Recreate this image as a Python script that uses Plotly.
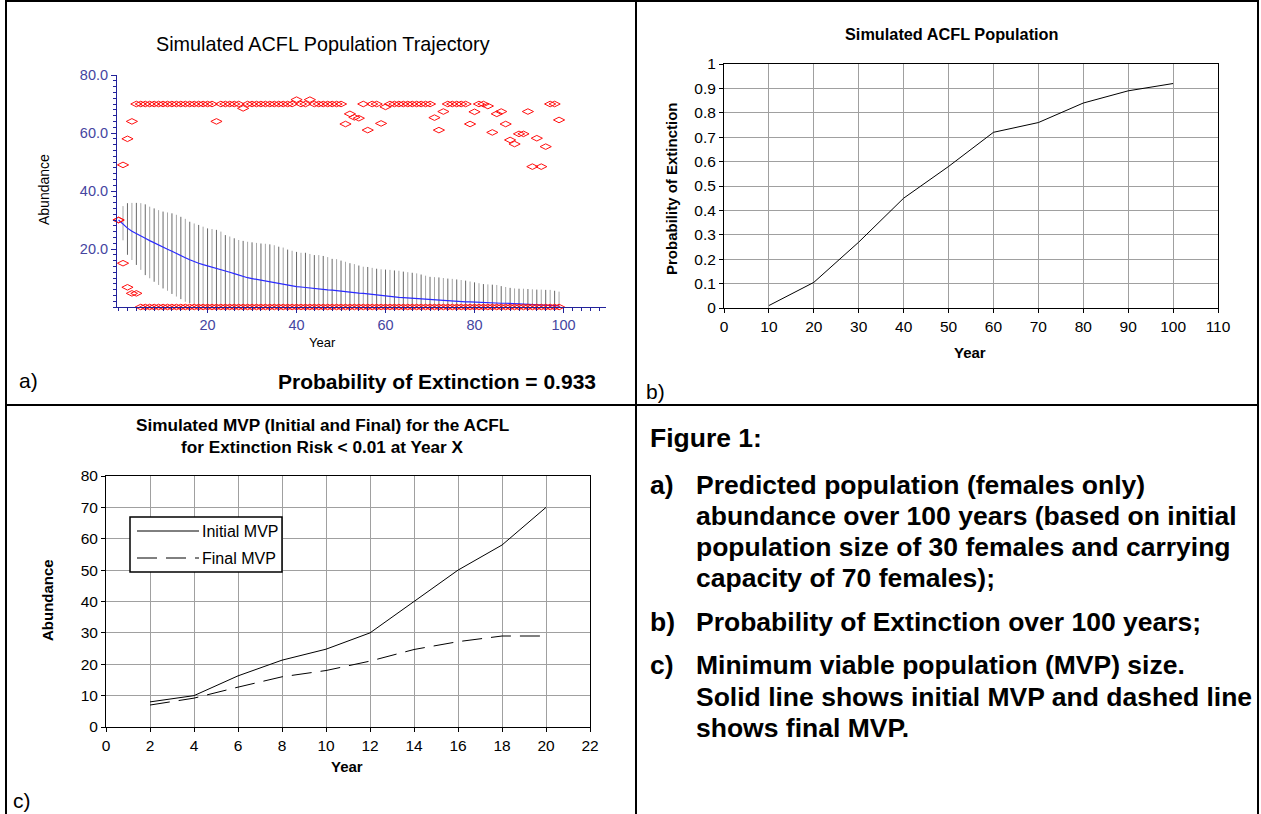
import plotly.graph_objects as go

W, H = 1261, 814
FONT = "Liberation Sans, Arial, sans-serif"


def X(px):
    return px / W


def Y(py):
    return 1 - py / H


# ---------------- Panel a data: simulated trajectory ----------------
years_a = list(range(0, 100))
max_a = [30, 49, 58, 64] + [70] * 18 + [64] + [70] * 5 + [68.5] + [70] * 11 + \
        [71.5, 70, 70, 71.5] + [70] * 7 + \
        [63.1, 66.6, 65.4, 65.1, 70, 61, 70, 70, 63.3, 69] + [70] * 10 + \
        [65.3, 61, 67.4] + [70] * 5 + \
        [63.1, 67.3, 70, 70, 69.3, 60.2, 66.6, 67.4, 63.1, 57.6, 56.2, 59.7,
         59.7, 67.4, 48.4, 58.2, 48.4, 55.3, 70, 70, 64.5]
min_a = [30, 15.1, 6.8, 4.7, 4.7] + [0] * 95
mean_a = [30, 28.5, 27.2, 26.1, 25.2, 24.4, 23.7, 22.9, 22.1, 21.3,
          20.6, 19.9, 19.2, 18.4, 17.7, 17.0, 16.3, 15.6, 15.1, 14.6,
          14.2, 13.8, 13.4, 12.9, 12.4, 12.0, 11.5, 11.0, 10.5, 10.1,
          9.8, 9.5, 9.2, 9.0, 8.6, 8.3, 8.0, 7.7, 7.5, 7.2,
          7.0, 6.9, 6.7, 6.5, 6.3, 6.1, 6.0, 5.9, 5.8, 5.6,
          5.4, 5.2, 5.0, 4.9, 4.8, 4.7, 4.5, 4.3, 4.1, 3.9,
          3.7, 3.6, 3.4, 3.3, 3.2, 3.1, 2.9, 2.8, 2.6, 2.5,
          2.4, 2.3, 2.2, 2.1, 2.0, 2.0, 1.9, 1.9, 1.8, 1.8,
          1.7, 1.7, 1.6, 1.5, 1.5, 1.4, 1.3, 1.3, 1.3, 1.2,
          1.1, 1.0, 0.9, 0.8, 0.7, 0.7, 0.6, 0.5, 0.5, 0.4]
upper_a = [30, 34.8, 35.8, 35.9, 35.9, 35.8, 35.4, 34.6, 34.0, 33.4,
           32.9, 32.6, 32.3, 31.8, 31.1, 30.4, 29.4, 28.8, 28.3, 27.7,
           27.1, 26.9, 26.6, 26.0, 24.8, 24.3, 23.7, 23.1, 22.8, 22.5,
           22.3, 22.1, 21.9, 21.8, 21.6, 21.3, 20.8, 20.5, 19.8, 19.4,
           19.0, 18.7, 18.7, 18.3, 17.9, 17.9, 17.6, 17.2, 16.6, 16.5,
           16.0, 15.6, 15.1, 14.8, 14.3, 13.9, 13.8, 13.5, 13.2, 13.0,
           12.9, 12.8, 12.6, 12.5, 12.2, 12.0, 11.8, 11.6, 11.2, 10.8,
           10.4, 10.3, 10.2, 10.0, 9.8, 9.7, 9.5, 9.3, 9.1, 8.8,
           8.5, 8.2, 7.9, 7.8, 7.7, 7.6, 7.2, 6.9, 6.6, 6.4,
           6.3, 6.3, 6.2, 6.1, 6.0, 6.0, 5.9, 5.9, 5.6, 5.3]
lower_a = [30, 23.0, 18.0, 16.2, 14.5, 12.8, 11.0, 9.9, 8.7, 7.6,
           6.4, 5.6, 4.5, 3.6, 2.7, 1.8, 1.3, 0.7, 0.2] + [0] * 81
xticks_a = [20, 40, 60, 80, 100]
yticks_a = [20, 40, 60, 80]

# ---------------- Panel b data: probability of extinction ----------------
years_b = [10, 20, 30, 40, 50, 60, 70, 80, 90, 100]
prob_b = [0.01, 0.105, 0.27, 0.45, 0.58, 0.72, 0.76, 0.84, 0.89, 0.92]

# ---------------- Panel c data: MVP ----------------
years_c = [2, 4, 6, 8, 10, 12, 14, 16, 18, 20]
initial_mvp = [8, 10, 16.3, 21.3, 24.8, 30, 40, 50, 58, 70]
final_mvp = [7, 9.2, 12.7, 16, 18, 21, 24.7, 27.2, 29, 29]
legend_names = ["Initial MVP", "Final MVP"]

DASH = "20px,9px"

fig = go.Figure()

# bars (range lines), alternating greys
for parity, col in ((0, "#686868"), (1, "#a6a6a6")):
    bx, by = [], []
    for t, lo, hi in zip(years_a, lower_a, upper_a):
        if t % 2 == parity and hi > lo:
            bx += [t, t, None]
            by += [lo, hi, None]
    fig.add_trace(go.Scatter(x=bx, y=by, mode="lines", xaxis="x", yaxis="y",
                             line=dict(color=col, width=1), showlegend=False,
                             hoverinfo="skip"))

fig.add_trace(go.Scatter(x=years_a, y=mean_a, mode="lines", xaxis="x", yaxis="y",
                         line=dict(color="#2a2aff", width=1.2), showlegend=False))
for arr in (max_a, min_a):
    fig.add_trace(go.Scatter(x=years_a, y=arr, mode="markers", xaxis="x", yaxis="y",
                             marker=dict(symbol="diamond-wide-open", size=8, color="#ff1010",
                                         line=dict(width=1, color="#ff1010")),
                             cliponaxis=False, showlegend=False))

fig.add_trace(go.Scatter(x=years_b, y=prob_b, mode="lines", xaxis="x2", yaxis="y2",
                         line=dict(color="black", width=1), showlegend=False))

fig.add_trace(go.Scatter(x=years_c, y=initial_mvp, mode="lines", xaxis="x3", yaxis="y3",
                         name=legend_names[0], line=dict(color="black", width=1),
                         showlegend=False))
fig.add_trace(go.Scatter(x=years_c, y=final_mvp, mode="lines", xaxis="x3", yaxis="y3",
                         name=legend_names[1], line=dict(color="black", width=1, dash=DASH),
                         showlegend=False))

NAVY = "#22229a"
LBL = "#45459f"
GRID = "#a0a0a0"
TICKF = dict(family=FONT, size=15.5, color="black")

axis_a_common = dict(showline=True, linecolor=NAVY, linewidth=1, ticks="outside",
                     ticklen=5, tickcolor=NAVY, showgrid=False, zeroline=False,
                     automargin=False,
                     tickfont=dict(family=FONT, size=14.5, color=LBL))

box_common = dict(showline=True, mirror=True, linecolor="black", linewidth=1,
                  ticks="outside", ticklen=4, tickcolor="black", automargin=False,
                  showgrid=True, gridcolor=GRID, gridwidth=1, zeroline=False,
                  tickfont=TICKF)

layout_axes = dict(
    xaxis=dict(domain=[X(117), X(606)], range=[-0.35, 109.55], anchor="y",
               tickmode="array", tickvals=xticks_a, ticktext=[str(v) for v in xticks_a],
               minor=dict(ticks="outside", ticklen=3, dtick=2, tick0=0, tickcolor=NAVY,
                          showgrid=False),
               **axis_a_common),
    yaxis=dict(domain=[Y(307), Y(75)], range=[0, 80], anchor="x",
               tickmode="array", tickvals=yticks_a, ticktext=[f"{v:.1f}" for v in yticks_a],
               minor=dict(ticks="outside", ticklen=3, dtick=2, tick0=0, tickcolor=NAVY,
                          showgrid=False),
               **axis_a_common),
    xaxis2=dict(domain=[X(724), X(1218)], range=[0, 110], anchor="y2", dtick=10, tick0=0,
                **box_common),
    yaxis2=dict(domain=[Y(308), Y(64)], range=[0, 1], anchor="x2", dtick=0.1, tick0=0,
                **box_common),
    xaxis3=dict(domain=[X(106), X(590)], range=[0, 22], anchor="y3", dtick=2, tick0=0,
                **box_common),
    yaxis3=dict(domain=[Y(727), Y(476)], range=[0, 80], anchor="x3", dtick=10, tick0=0,
                **box_common),
)

anns = []


def txt(x, y, s, size, bold=False, anchor="center", angle=0, color="black"):
    anns.append(dict(x=X(x), y=Y(y), xref="paper", yref="paper", text=(f"<b>{s}</b>" if bold else s),
                     showarrow=False, xanchor=anchor, yanchor="middle", textangle=angle,
                     font=dict(family=FONT, size=size, color=color)))


# panel a texts
txt(323, 44, "Simulated ACFL Population Trajectory", 19.8)
txt(44, 190, "Abundance", 14, angle=-90)
txt(322, 342, "Year", 13)
txt(437, 381, "Probability of Extinction = 0.933", 21, bold=True)
txt(17, 380, "a)", 21, anchor="left")
# panel b texts
txt(951, 34, "Simulated ACFL Population", 16.3, bold=True)
txt(672, 189, "Probability of Extinction", 15, bold=True, angle=-90)
txt(970, 353, "Year", 15, bold=True)
txt(644, 391, "b)", 21, anchor="left")
# panel c texts
txt(322, 425, "Simulated MVP (Initial and Final) for the ACFL", 17.2, bold=True)
txt(322, 447, "for Extinction Risk &lt; 0.01 at Year X", 17.2, bold=True)
txt(47, 600, "Abundance", 15, bold=True, angle=-90)
txt(347, 766, "Year", 15, bold=True)
txt(11, 800, "c)", 21, anchor="left")
# legend of panel c (drawn as a box with samples)
txt(200, 531, legend_names[0], 16, anchor="left")
txt(200, 558, legend_names[1], 16, anchor="left")
# caption
CAP = 26.5
txt(648, 438, "Figure 1:", CAP, bold=True, anchor="left")
txt(648, 485, "a)", CAP, bold=True, anchor="left")
txt(694, 485, "Predicted population (females only)", CAP, bold=True, anchor="left")
txt(694, 516, "abundance over 100 years (based on initial", CAP, bold=True, anchor="left")
txt(694, 547, "population size of 30 females and carrying", CAP, bold=True, anchor="left")
txt(694, 578, "capacity of 70 females);", CAP, bold=True, anchor="left")
txt(648, 622, "b)", CAP, bold=True, anchor="left")
txt(694, 622, "Probability of Extinction over 100 years;", CAP, bold=True, anchor="left")
txt(648, 665, "c)", CAP, bold=True, anchor="left")
txt(694, 665, "Minimum viable population (MVP) size.", CAP, bold=True, anchor="left")
txt(694, 697, "Solid line shows initial MVP and dashed line", CAP, bold=True, anchor="left")
txt(694, 728, "shows final MVP.", CAP, bold=True, anchor="left")

shapes = []


def line(x0, y0, x1, y1, width=2, dash=None):
    d = dict(color="black", width=width)
    if dash:
        d["dash"] = dash
    shapes.append(dict(type="line", xref="paper", yref="paper", x0=X(x0), x1=X(x1),
                       y0=Y(y0), y1=Y(y1), line=d))


# table borders
line(6, 1, 1259, 1)
line(6, 405, 1259, 405)
line(6, 0, 6, 814)
line(636, 0, 636, 814)
line(1258, 0, 1258, 814)
# legend box + samples
shapes.append(dict(type="rect", xref="paper", yref="paper", x0=X(130), x1=X(282),
                   y0=Y(572), y1=Y(517), line=dict(color="black", width=1.5),
                   fillcolor="white", layer="above"))
line(137, 531, 199, 531, width=1)
line(137, 558, 199, 558, width=1, dash=DASH)

fig.update_layout(
    template="none",
    width=W, height=H, margin=dict(l=0, r=0, t=0, b=0, pad=0, autoexpand=False),
    paper_bgcolor="white", plot_bgcolor="white",
    font=dict(family=FONT, color="black"),
    annotations=anns, shapes=shapes,
    showlegend=False,
    **layout_axes,
)

fig.write_html("out.html",
               post_script="document.body.style.margin='0';document.body.style.overflow='hidden';")
